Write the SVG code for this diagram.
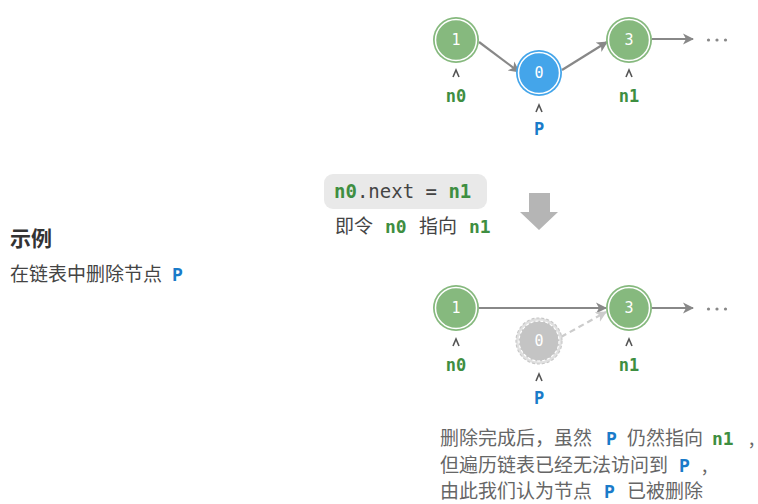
<svg xmlns="http://www.w3.org/2000/svg" width="758" height="504" viewBox="0 0 758 504">
<defs>
<style>
.mono{font-family:"DejaVu Sans Mono","Liberation Mono",monospace}
.cjk{font-family:"Noto Sans CJK SC","Noto Sans",sans-serif}
.num{font-family:"DejaVu Sans Mono","Liberation Mono",monospace;font-size:15px;fill:#fff;text-anchor:middle}
.lbl{font-family:"DejaVu Sans Mono","Liberation Mono",monospace;font-size:17px;font-weight:bold;text-anchor:middle}
.g{fill:#3e8e41}
.b{fill:#1a7bc9}
.caret{fill:none;stroke:#555;stroke-width:1.6}
.edge{stroke:#888;stroke-width:2.2;fill:none}
.txt{font-family:"Noto Sans CJK SC","Noto Sans",sans-serif;font-size:19px;fill:#444}
.note{font-family:"Noto Sans CJK SC","Noto Sans",sans-serif;font-size:19px;fill:#666}
.mb{font-family:"DejaVu Sans Mono","Liberation Mono",monospace;font-weight:bold;font-size:18px}
.dot{fill:#888}
</style>
<marker id="ah" markerWidth="12" markerHeight="12" refX="10" refY="6" orient="auto" markerUnits="userSpaceOnUse">
<path d="M0,0.5 L11,6 L0,11.5 L3,6 Z" fill="#888"/>
</marker>
<marker id="ahl" markerWidth="12" markerHeight="12" refX="10" refY="6" orient="auto" markerUnits="userSpaceOnUse">
<path d="M0,0.5 L11,6 L0,11.5 L3,6 Z" fill="#ccc"/>
</marker>
</defs>
<rect width="758" height="504" fill="#fff"/>

<g id="connectors">
<line class="edge" x1="479" y1="42" x2="519" y2="72" marker-end="url(#ah)"/>
<line class="edge" x1="562" y1="70" x2="607" y2="42" marker-end="url(#ah)"/>
<line class="edge" x1="652" y1="39" x2="693" y2="39" marker-end="url(#ah)"/>
<line class="edge" x1="479" y1="308" x2="606" y2="308" marker-end="url(#ah)"/>
<line x1="561" y1="337" x2="606" y2="312" stroke="#ccc" stroke-width="2.2" stroke-dasharray="6,4" marker-end="url(#ahl)"/>
<line class="edge" x1="652" y1="308" x2="693" y2="308" marker-end="url(#ah)"/>
</g>

<g id="top-node1">
<circle cx="456" cy="40" r="23" fill="#86b97e"/>
<circle cx="456" cy="40" r="20.5" fill="#86b97e" stroke="#fff" stroke-width="1.5"/>
<text class="num" x="456" y="45">1</text>
</g>
<g id="top-node0">
<circle cx="539" cy="73" r="23" fill="#44a5ea"/>
<circle cx="539" cy="73" r="20.5" fill="#44a5ea" stroke="#fff" stroke-width="1.5"/>
<text class="num" x="539" y="78">0</text>
</g>
<g id="top-node3">
<circle cx="629" cy="40" r="23" fill="#86b97e"/>
<circle cx="629" cy="40" r="20.5" fill="#86b97e" stroke="#fff" stroke-width="1.5"/>
<text class="num" x="629" y="45">3</text>
</g>
<g id="top-dots">
<circle class="dot" cx="708.5" cy="40" r="1.6"/><circle class="dot" cx="717" cy="40" r="1.6"/><circle class="dot" cx="725.5" cy="40" r="1.6"/>
</g>

<g id="top-labels">
<path class="caret" d="M453,77 L456,70 L459,77"/>
<text class="lbl g" x="456" y="102">n0</text>
<path class="caret" d="M626,77 L629,70 L632,77"/>
<text class="lbl g" x="629" y="102">n1</text>
<path class="caret" d="M536,112 L539,105 L542,112"/>
<text class="lbl b" x="539" y="135">P</text>
</g>

<g id="code">
<rect x="324" y="174" width="163" height="35" rx="9" fill="#e9e9e9"/>
<text class="mono" x="334" y="198" font-size="19" fill="#444"><tspan font-weight="bold" fill="#3e8e41">n0</tspan>.next = <tspan font-weight="bold" fill="#3e8e41">n1</tspan></text>
<text x="335" y="233" class="txt">即令</text>
<text x="385" y="233" class="mb g">n0</text>
<text x="419" y="233" class="txt">指向</text>
<text x="469" y="233" class="mb g">n1</text>
</g>

<g id="down-arrow">
<path d="M529,193 L550,193 L550,212 L558,212 L539,230 L520,212 L529,212 Z" fill="#b5b5b5"/>
</g>

<g id="title">
<text x="10" y="246" class="cjk" font-size="21" font-weight="bold" fill="#333">示例</text>
<text x="10" y="281" class="txt">在链表中删除节点</text>
<text x="172" y="281" class="mb b">P</text>
</g>

<g id="bot-node1">
<circle cx="456" cy="308" r="23" fill="#86b97e"/>
<circle cx="456" cy="308" r="20.5" fill="#86b97e" stroke="#fff" stroke-width="1.5"/>
<text class="num" x="456" y="313">1</text>
</g>
<g id="bot-node0">
<circle cx="539" cy="341" r="23" fill="#e0e0e0" stroke="#c8c8c8" stroke-width="1.2" stroke-dasharray="3,2"/>
<circle cx="539" cy="341" r="20" fill="#c4c4c4" stroke="#fff" stroke-width="1.2" stroke-dasharray="3,2"/>
<text class="num" x="539" y="346">0</text>
</g>
<g id="bot-node3">
<circle cx="629" cy="308" r="23" fill="#86b97e"/>
<circle cx="629" cy="308" r="20.5" fill="#86b97e" stroke="#fff" stroke-width="1.5"/>
<text class="num" x="629" y="313">3</text>
</g>
<g id="bot-dots">
<circle class="dot" cx="708.5" cy="309" r="1.6"/><circle class="dot" cx="717" cy="309" r="1.6"/><circle class="dot" cx="725.5" cy="309" r="1.6"/>
</g>

<g id="bot-labels">
<path class="caret" d="M453,346 L456,339 L459,346"/>
<text class="lbl g" x="456" y="371">n0</text>
<path class="caret" d="M626,346 L629,339 L632,346"/>
<text class="lbl g" x="629" y="371">n1</text>
<path class="caret" d="M536,381 L539,374 L542,381"/>
<text class="lbl b" x="539" y="404">P</text>
</g>

<g id="note">
<text x="440" y="445" class="note">删除完成后，虽然</text>
<text x="606" y="445" class="mb b">P</text>
<text x="627" y="445" class="note">仍然指向</text>
<text x="712" y="445" class="mb g">n1</text>
<text x="749" y="445" class="note">,</text>
<text x="440" y="472" class="note">但遍历链表已经无法访问到</text>
<text x="679" y="472" class="mb b">P</text>
<text x="702" y="472" class="note">,</text>
<text x="440" y="498" class="note">由此我们认为节点</text>
<text x="604" y="498" class="mb b">P</text>
<text x="627" y="498" class="note">已被删除</text>
</g>
</svg>
